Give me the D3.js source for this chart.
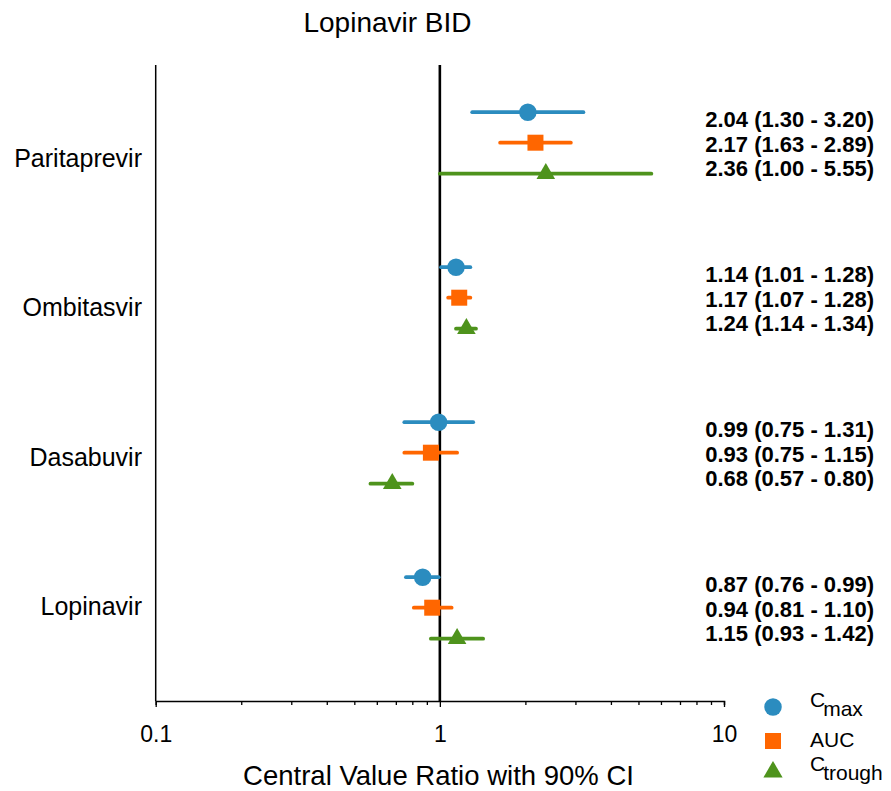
<!DOCTYPE html>
<html>
<head>
<meta charset="utf-8">
<script src="https://cdnjs.cloudflare.com/ajax/libs/d3/7.8.5/d3.min.js"></script>
<style>
  body { margin: 0; background: #fff; }
  text { font-family: "Liberation Sans", Arial, sans-serif; fill: #000; }
</style>
</head>
<body>
<svg id="forest"></svg>
<script>
// data
var drugs = ["Paritaprevir", "Ombitasvir", "Dasabuvir", "Lopinavir"];
var seriesKeys = ["cmax", "auc", "ctrough"];

var cmaxMid = [2.04, 1.14, 0.99, 0.87];
var cmaxLo  = [1.30, 1.01, 0.75, 0.76];
var cmaxHi  = [3.20, 1.28, 1.31, 0.99];

var aucMid = [2.17, 1.17, 0.93, 0.94];
var aucLo  = [1.63, 1.07, 0.75, 0.81];
var aucHi  = [2.89, 1.28, 1.15, 1.10];

var ctroughMid = [2.36, 1.24, 0.68, 1.15];
var ctroughLo  = [1.00, 1.14, 0.57, 0.93];
var ctroughHi  = [5.55, 1.34, 0.80, 1.42];

var xTickLabels = [0.1, 1, 10];

var width = 891, height = 791;
var colors = { cmax: "#2b8cbf", auc: "#ff6600", ctrough: "#4e931c" };
var shapes = { cmax: d3.symbolCircle, auc: d3.symbolSquare, ctrough: d3.symbolTriangle };
var sizes = { cmax: 240, auc: 256, ctrough: 150 };
var rowOffset = { cmax: -30.5, auc: 0, ctrough: 31 };

var rows = [];
drugs.forEach(function (d, i) {
  rows.push({ drug: d, key: "cmax", mid: cmaxMid[i], lo: cmaxLo[i], hi: cmaxHi[i] });
  rows.push({ drug: d, key: "auc", mid: aucMid[i], lo: aucLo[i], hi: aucHi[i] });
  rows.push({ drug: d, key: "ctrough", mid: ctroughMid[i], lo: ctroughLo[i], hi: ctroughHi[i] });
});

var svg = d3.select("#forest")
  .attr("width", width)
  .attr("height", height);

var plotTop = 65, plotBottom = 701;

var x = d3.scaleLog().domain([0.1, 10]).range([155.7, 724]);
var yGroup = d3.scalePoint().domain(drugs).range([142.7, 607.7]);
var yLabel = d3.scalePoint().domain(drugs).range([166.7, 615.2]);

function isMajor(d) {
  return xTickLabels.some(function (t) { return Math.abs(t - d) < 1e-9; });
}

// title
svg.append("text")
  .attr("x", 387.5)
  .attr("y", 32)
  .attr("text-anchor", "middle")
  .style("font-size", "28px")
  .text("Lopinavir BID");

// x axis
var xAxis = d3.axisBottom(x)
  .tickSizeOuter(0)
  .tickSize(4)
  .tickFormat(function (d) { return isMajor(d) ? String(+d.toPrecision(1)) : ""; });

var gx = svg.append("g")
  .attr("transform", "translate(0," + plotBottom + ")")
  .call(xAxis);
gx.select(".domain").attr("stroke-width", 1.5);
gx.selectAll(".tick line")
  .attr("stroke-width", 1.3)
  .attr("y2", function (d) { return isMajor(d) ? 6 : 4; });
gx.selectAll(".tick text")
  .attr("y", 41)
  .attr("dy", 0)
  .style("font-size", "23px")
  .style("font-family", "'Liberation Sans', Arial, sans-serif");

// left axis line
svg.append("line")
  .attr("x1", x(0.1)).attr("x2", x(0.1))
  .attr("y1", plotTop).attr("y2", plotBottom)
  .attr("stroke", "#000").attr("stroke-width", 1.5);

// reference line at 1
svg.append("line")
  .attr("x1", x(1)).attr("x2", x(1))
  .attr("y1", plotTop).attr("y2", plotBottom)
  .attr("stroke", "#000").attr("stroke-width", 2.6);

// drug labels
svg.selectAll(".drugLabel")
  .data(drugs)
  .enter()
  .append("text")
  .attr("class", "drugLabel")
  .attr("x", 142)
  .attr("y", function (d) { return yLabel(d); })
  .attr("text-anchor", "end")
  .style("font-size", "25px")
  .text(function (d) { return d; });

// CI lines
svg.selectAll(".ci")
  .data(rows)
  .enter()
  .append("line")
  .attr("class", "ci")
  .attr("x1", function (d) { return x(d.lo); })
  .attr("x2", function (d) { return x(d.hi); })
  .attr("y1", function (d) { return yGroup(d.drug) + rowOffset[d.key]; })
  .attr("y2", function (d) { return yGroup(d.drug) + rowOffset[d.key]; })
  .attr("stroke", function (d) { return colors[d.key]; })
  .attr("stroke-width", 3.8)
  .attr("stroke-linecap", "round");

// point estimates
svg.selectAll(".pt")
  .data(rows)
  .enter()
  .append("path")
  .attr("class", "pt")
  .attr("transform", function (d) {
    return "translate(" + x(d.mid) + "," + (yGroup(d.drug) + rowOffset[d.key]) + ")";
  })
  .attr("d", function (d) { return d3.symbol().type(shapes[d.key]).size(sizes[d.key])(); })
  .attr("fill", function (d) { return colors[d.key]; });

// value labels
var fmt = d3.format(".2f");
svg.selectAll(".valLabel")
  .data(rows)
  .enter()
  .append("text")
  .attr("class", "valLabel")
  .attr("x", 874)
  .attr("y", function (d) {
    return yGroup(d.drug) + 9 + (seriesKeys.indexOf(d.key) - 1) * 24.5;
  })
  .attr("text-anchor", "end")
  .style("font-size", "22px")
  .style("font-weight", "bold")
  .text(function (d) { return fmt(d.mid) + " (" + fmt(d.lo) + " - " + fmt(d.hi) + ")"; });

// axis title
svg.append("text")
  .attr("x", 438.5)
  .attr("y", 785)
  .attr("text-anchor", "middle")
  .style("font-size", "27.5px")
  .text("Central Value Ratio with 90% CI");

// legend
var legendY = { cmax: 707, auc: 741, ctrough: 772 };
var legendTextY = { cmax: 707, auc: 747, ctrough: 771 };
var legend = svg.append("g");
seriesKeys.forEach(function (k) {
  legend.append("path")
    .attr("transform", "translate(773," + legendY[k] + ")")
    .attr("d", d3.symbol().type(shapes[k]).size(k === "ctrough" ? 160 : sizes[k])())
    .attr("fill", colors[k]);
  var t = legend.append("text")
    .attr("x", 810)
    .attr("y", legendTextY[k])
    .style("font-size", "21px");
  if (k === "auc") {
    t.text("AUC");
  } else {
    t.append("tspan").text("C");
    t.append("tspan")
      .attr("dx", -2)
      .attr("dy", 9)
      .style("font-size", "21px")
      .text(k === "cmax" ? "max" : "trough");
  }
});
</script>
</body>
</html>
